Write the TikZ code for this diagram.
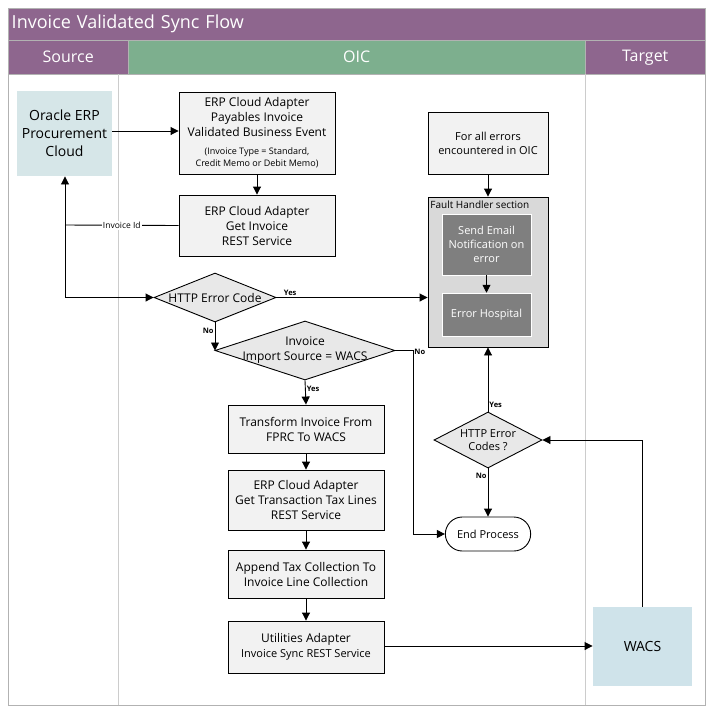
\documentclass[tikz,border=0pt]{standalone}
\usepackage{fontspec}
\setmainfont{Open Sans}
\usetikzlibrary{shapes.geometric,shapes.misc,arrows.meta}
\definecolor{purp}{HTML}{8E668E}
\definecolor{grn}{HTML}{7DAF8E}
\definecolor{teal1}{HTML}{D6E6E8}
\definecolor{wacs}{HTML}{CFE3EA}
\definecolor{boxf}{HTML}{F2F2F2}
\definecolor{dia}{HTML}{E8E8E8}
\definecolor{fh}{HTML}{D9D9D9}
\definecolor{inner}{HTML}{7F7F7F}
\begin{document}
\begin{tikzpicture}[x=1pt,y=-1pt,line width=0.9pt,
  box/.style={draw,fill=boxf,align=center,inner sep=0pt,font=\fontsize{12}{15}\selectfont},
  dm/.style={draw,fill=dia,diamond,aspect=3,inner sep=-8pt,align=center,font=\fontsize{12}{15}\selectfont},
  ar/.style={-{Triangle[length=8pt,width=8pt]}},
  lbl/.style={font=\fontsize{7.5}{9}\selectfont\bfseries,inner sep=1pt},
  hdr/.style={draw=gray!60,line width=0.5pt,text=white,font=\fontsize{16}{19}\selectfont}]
\useasboundingbox (0,0) rectangle (714,713);
\fill[white] (0,0) rectangle (714,713);
\draw[gray!60,line width=0.5pt] (8,8) rectangle (705,705);
\node[hdr,fill=purp,minimum width=697,minimum height=32,anchor=north west,font=\fontsize{18}{21}\selectfont,inner xsep=3pt,text width=690] (title) at (8,8) {Invoice Validated Sync Flow};
\node[hdr,fill=purp,minimum width=120,minimum height=34,anchor=north west] (src) at (8,40) {Source};
\node[hdr,fill=grn,minimum width=457,minimum height=34,anchor=north west] (oic) at (128,40) {OIC};
\node[hdr,fill=purp,minimum width=120,minimum height=34,anchor=north west] (tgt) at (585,40) {Target};
\draw[gray!40,line width=0.5pt] (118,74) -- (118,705) (585,74) -- (585,705);

\node[fill=teal1,minimum width=95,minimum height=85,align=center,font=\fontsize{14}{18}\selectfont] (oracle) at (64.5,133.5) {Oracle ERP\\Procurement\\Cloud};
\node[box,minimum width=156,minimum height=82] (event) at (257,133) {ERP Cloud Adapter\\Payables Invoice\\Validated Business Event\\[3pt]{\fontsize{9}{11}\selectfont(Invoice Type = Standard,}\\[-3pt]{\fontsize{9}{11}\selectfont Credit Memo or Debit Memo)}};
\node[box,minimum width=156,minimum height=61] (getinv) at (257,225.5) {ERP Cloud Adapter\\Get Invoice\\REST Service};
\node[dm,minimum width=122,minimum height=49] (http) at (215,297.5) {HTTP Error Code};
\node[dm,minimum width=180,minimum height=59,inner sep=-12pt] (imp) at (305,350.5) {Invoice\\Import Source = WACS};
\node[box,minimum width=156,minimum height=48] (trans) at (306,429) {Transform Invoice From\\FPRC To WACS};
\node[box,minimum width=156,minimum height=60] (tax) at (306,500) {ERP Cloud Adapter\\Get Transaction Tax Lines\\REST Service};
\node[box,minimum width=156,minimum height=48] (app) at (306,574) {Append Tax Collection To\\Invoice Line Collection};
\node[box,minimum width=156,minimum height=52] (util) at (306,647) {Utilities Adapter\\{\fontsize{11}{13}\selectfont Invoice Sync REST Service}};
\node[box,minimum width=120,minimum height=62,font=\fontsize{11}{14}\selectfont] (errs) at (488,143) {For all errors\\encountered in OIC};
\node[draw,fill=fh,minimum width=120,minimum height=150] (fault) at (488,272) {};
\node[anchor=north west,inner sep=2pt,font=\fontsize{10}{12}\selectfont] (fhl) at (428,198) {Fault Handler section};
\node[fill=inner,draw=white,line width=0.5pt,text=white,minimum width=89,minimum height=61,align=center,font=\fontsize{11}{14}\selectfont] (email) at (486.5,244.5) {Send Email\\Notification on\\error};
\node[fill=inner,draw=white,line width=0.5pt,text=white,minimum width=89,minimum height=43,font=\fontsize{11}{14}\selectfont] (hosp) at (486.5,314.5) {Error Hospital};
\node[dm,minimum width=108,minimum height=56,font=\fontsize{11}{13}\selectfont,inner sep=-10pt] (codes) at (488,440) {HTTP Error\\Codes ?};
\node[draw,fill=white,rounded rectangle,minimum width=92,minimum height=34,font=\fontsize{11}{13}\selectfont] (endp) at (488,534) {End Process};
\node[fill=wacs,minimum width=99,minimum height=79,font=\fontsize{14}{17}\selectfont] (wacs) at (642.5,646.5) {WACS};

\coordinate (j) at (65,225);
\draw[ar] (oracle.east |- 0,131) -- (event.west |- 0,131);
\draw[ar] (event) -- (getinv);
\draw (getinv.west) -- node[fill=white,font=\fontsize{8.5}{10}\selectfont,inner sep=1pt] (iid) {Invoice Id} (j);
\draw[ar] (j) -- (oracle.south -| j);
\draw[ar] (j) |- (http.west);
\draw[ar] (http.east) -- node[lbl,pos=0.04,above right] (y1) {Yes} (fault.west |- http.east);
\draw[ar] (http.south) -- node[lbl,pos=0.3,left] (n1) {No} (http.south |- imp.west);
\draw[ar] (imp.east) -- (413,350.5) |- node[lbl,pos=0.02,right,yshift=6] (n2) {No} (endp.west);
\draw[ar] (imp.south) -- node[lbl,pos=0.35,right] (y2) {Yes} (trans.north);
\draw[ar] (trans) -- (tax);
\draw[ar] (tax) -- (app);
\draw[ar] (app) -- (util);
\draw[ar] (util.east |- 0,646) -- (wacs.west |- 0,646);
\draw[ar] (wacs.north) |- (codes.east);
\draw[ar] (codes.north) -- node[lbl,pos=0.1,right] (y3) {Yes} (fault.south);
\draw[ar] (codes.south) -- node[lbl,pos=0.15,left] (n3) {No} (endp.north);
\draw[ar] (errs) -- (fault);
\draw[ar] (email) -- (hosp);
\end{tikzpicture}
\end{document}
